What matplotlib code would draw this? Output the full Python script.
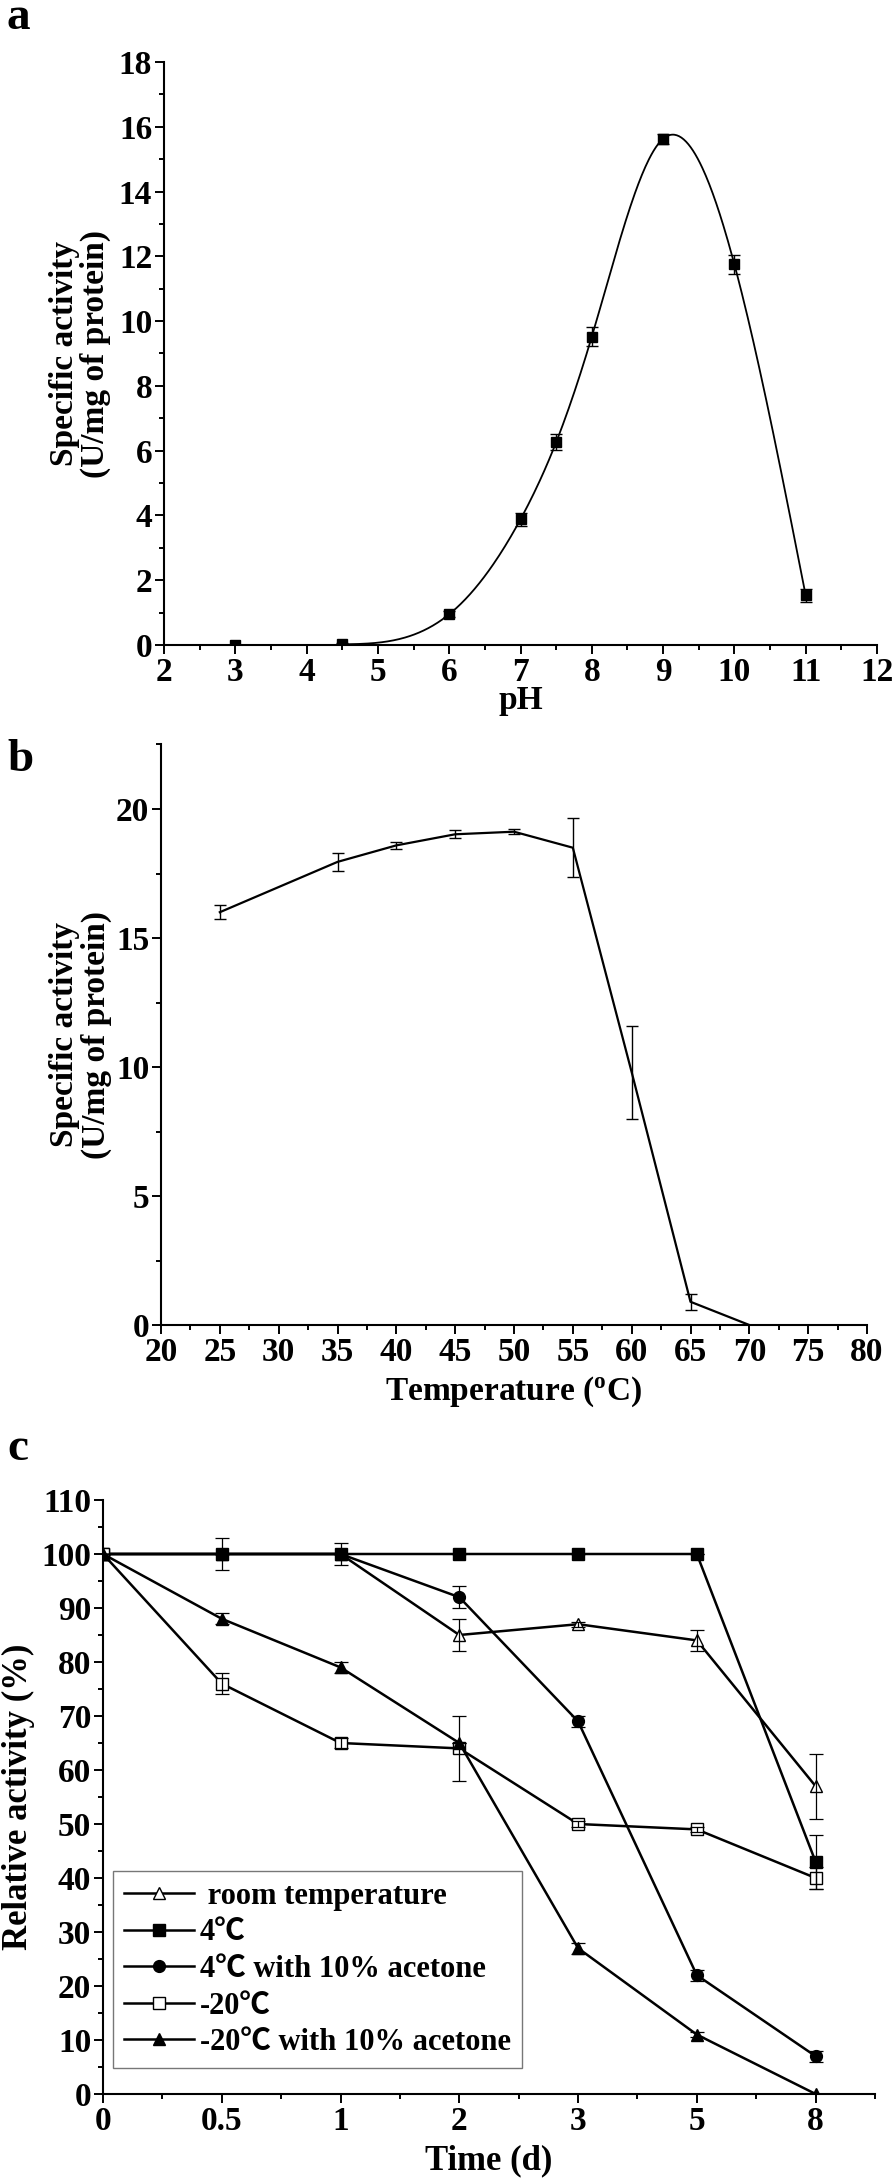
import numpy as np
import matplotlib
matplotlib.use("Agg")
import matplotlib.pyplot as plt
from matplotlib.ticker import MultipleLocator, FixedLocator

# ---------------- data ----------------
ph = [3, 4.5, 6, 7, 7.5, 8, 9, 10, 11]
ph_act = [0.0, 0.02, 0.95, 3.88, 6.26, 9.52, 15.63, 11.75, 1.53]
ph_err = [0.0, 0.05, 0.1, 0.2, 0.25, 0.3, 0.15, 0.3, 0.2]

temp = [25, 35, 40, 45, 50, 55, 60, 65, 70]
temp_act = [16.0, 17.95, 18.59, 19.02, 19.12, 18.5, 9.8, 0.9, 0.0]
temp_err = [0.28, 0.35, 0.13, 0.15, 0.1, 1.14, 1.8, 0.3, 0.0]

days = ["0", "0.5", "1", "2", "3", "5", "8"]
room = [100, 100, 100, 85, 87, 84, 57]
room_err = [0, 0, 0, 3, 0.5, 2, 6]
c4 = [100, 100, 100, 100, 100, 100, 43]
c4_err = [0, 3, 2, 0, 0, 0, 5]
c4_ac = [100, 100, 100, 92, 69, 22, 7]
c4_ac_err = [0, 0, 0, 2, 1, 1, 1]
m20 = [100, 76, 65, 64, 50, 49, 40]
m20_err = [0, 2, 1, 6, 0.5, 0.5, 2]
m20_ac = [100, 88, 79, 65, 27, 11, 0]
m20_ac_err = [0, 1, 1, 0, 1, 0.5, 0]

legend_labels = [" room temperature", "4\u2103", "4\u2103 with 10% acetone",
                 "-20\u2103", "-20\u2103 with 10% acetone"]

# ---------------- style ----------------
plt.rcParams.update({
    "font.family": ["Liberation Serif", "Noto Sans CJK SC", "DejaVu Sans"],
    "font.weight": "bold",
    "axes.labelweight": "bold",
    "mathtext.fontset": "custom",
    "mathtext.rm": "Liberation Serif:bold",
    "mathtext.bf": "Liberation Serif:bold",
    "mathtext.it": "Liberation Serif:bold:italic",
    "axes.linewidth": 1.5,
    "xtick.major.width": 1.4, "ytick.major.width": 1.4,
    "xtick.minor.width": 1.4, "ytick.minor.width": 1.4,
    "xtick.major.size": 6.5, "ytick.major.size": 6.5,
    "xtick.minor.size": 3.4, "ytick.minor.size": 3.4,
    "xtick.direction": "out", "ytick.direction": "out",
})

W, H = 894, 2179
fig = plt.figure(figsize=(W / 100, H / 100), dpi=100)


def axes_px(l, r, t, b):
    return fig.add_axes([l / W, 1 - b / H, (r - l) / W, (b - t) / H])


def style(ax, fs=24):
    ax.spines["top"].set_visible(False)
    ax.spines["right"].set_visible(False)
    ax.tick_params(axis="both", which="major", labelsize=fs, pad=2)
    for lab in ax.get_xticklabels() + ax.get_yticklabels():
        lab.set_fontweight("bold")


def natural_spline(x, y, xs):
    x = np.asarray(x, float)
    y = np.asarray(y, float)
    n = len(x)
    h = np.diff(x)
    A = np.zeros((n, n))
    rhs = np.zeros(n)
    A[0, 0] = 1
    A[-1, -1] = 1
    for i in range(1, n - 1):
        A[i, i - 1] = h[i - 1]
        A[i, i] = 2 * (h[i - 1] + h[i])
        A[i, i + 1] = h[i]
        rhs[i] = 6 * ((y[i + 1] - y[i]) / h[i] - (y[i] - y[i - 1]) / h[i - 1])
    M = np.linalg.solve(A, rhs)
    out = np.empty_like(xs)
    for k, xv in enumerate(xs):
        i = min(max(np.searchsorted(x, xv) - 1, 0), n - 2)
        t1 = x[i + 1] - xv
        t0 = xv - x[i]
        out[k] = (M[i] * t1 ** 3 / (6 * h[i]) + M[i + 1] * t0 ** 3 / (6 * h[i])
                  + (y[i] / h[i] - M[i] * h[i] / 6) * t1
                  + (y[i + 1] / h[i] - M[i + 1] * h[i] / 6) * t0)
    return out


# ---------------- panel a ----------------
axa = axes_px(164, 877, 62, 645)
xs = np.linspace(ph[1], ph[-1], 400)
ys = np.clip(natural_spline(ph[1:], ph_act[1:], xs), 0, None)
axa.plot(xs, ys, color="black", lw=1.3)
axa.errorbar(ph, ph_act, yerr=ph_err, fmt="none", ecolor="black",
             elinewidth=1.0, capsize=4, capthick=1.0)
axa.plot(ph, ph_act, ls="none", marker="s", ms=7, color="black")
axa.set_xlim(2, 12)
axa.set_ylim(0, 18)
axa.xaxis.set_major_locator(MultipleLocator(1))
axa.xaxis.set_minor_locator(MultipleLocator(0.5))
axa.yaxis.set_major_locator(MultipleLocator(2))
axa.yaxis.set_minor_locator(MultipleLocator(1))
style(axa)
axa.set_xlabel("pH", fontsize=24)
axa.set_ylabel("Specific activity\n(U/mg of protein)", fontsize=24, linespacing=1.0)
axa.xaxis.set_label_coords(0.5, -0.068)
axa.yaxis.set_label_coords(-0.074, 0.5)

# ---------------- panel b ----------------
axb = axes_px(161, 867, 744.5, 1325)
axb.plot(temp, temp_act, color="black", lw=1.6)
axb.errorbar(temp, temp_act, yerr=temp_err, fmt="none", ecolor="black",
             elinewidth=1.0, capsize=4, capthick=1.0)
axb.set_xlim(20, 80)
axb.set_ylim(0, 22.5)
axb.xaxis.set_major_locator(MultipleLocator(5))
axb.xaxis.set_minor_locator(MultipleLocator(2.5))
axb.yaxis.set_major_locator(MultipleLocator(5))
axb.yaxis.set_minor_locator(MultipleLocator(2.5))
style(axb)
axb.set_xlabel(r"Temperature ($^{\mathbf{o}}$C)", fontsize=24)
axb.set_ylabel("Specific activity\n(U/mg of protein)", fontsize=24, linespacing=1.0)
axb.xaxis.set_label_coords(0.5, -0.085)
axb.yaxis.set_label_coords(-0.070, 0.5)

# ---------------- panel c ----------------
axc = axes_px(103, 875, 1500, 2094)
xi = np.arange(len(days))
series = [
    (room, room_err, "^", "white"),
    (c4, c4_err, "s", "black"),
    (c4_ac, c4_ac_err, "o", "black"),
    (m20, m20_err, "s", "white"),
    (m20_ac, m20_ac_err, "^", "black"),
]
handles = []
for (vals, errs, mk, fc), lab in zip(series, legend_labels):
    ln, = axc.plot(xi, vals, color="black", lw=1.8, marker=mk, ms=8.5,
                   mfc=fc, mec="black", mew=1.0, label=lab, zorder=3)
    axc.errorbar(xi, vals, yerr=errs, fmt="none", ecolor="black",
                 elinewidth=0.9, capsize=5, capthick=0.9, zorder=4)
    handles.append(ln)
axc.set_xlim(0, 6.5)
axc.set_ylim(0, 110)
axc.xaxis.set_major_locator(FixedLocator(xi))
axc.set_xticklabels(days)
axc.xaxis.set_minor_locator(MultipleLocator(0.5))
axc.yaxis.set_major_locator(MultipleLocator(10))
axc.yaxis.set_minor_locator(MultipleLocator(5))
style(axc, fs=24)
axc.set_xlabel("Time (d)", fontsize=25)
axc.set_ylabel("Relative activity (%)", fontsize=25)
axc.xaxis.set_label_coords(0.5, -0.085)
axc.yaxis.set_label_coords(-0.088, 0.5)
leg = axc.legend(handles=handles, loc="lower left", bbox_to_anchor=(0.013, 0.044),
                 borderaxespad=0, fontsize=22, frameon=True, fancybox=False,
                 handlelength=2.3, handletextpad=0.2, labelspacing=0.25,
                 borderpad=0.35, edgecolor="#555555")
leg.get_frame().set_linewidth(1.0)
for t in leg.get_texts():
    t.set_fontweight("bold")

# ---------------- panel letters ----------------
fig.text(7 / W, 1 - 29 / H, "a", fontsize=34, fontweight="bold", ha="left", va="baseline")
fig.text(7 / W, 1 - 771 / H, "b", fontsize=34, fontweight="bold", ha="left", va="baseline")
fig.text(7 / W, 1 - 1460 / H, "c", fontsize=34, fontweight="bold", ha="left", va="baseline")

fig.savefig("out.png", dpi=100)
